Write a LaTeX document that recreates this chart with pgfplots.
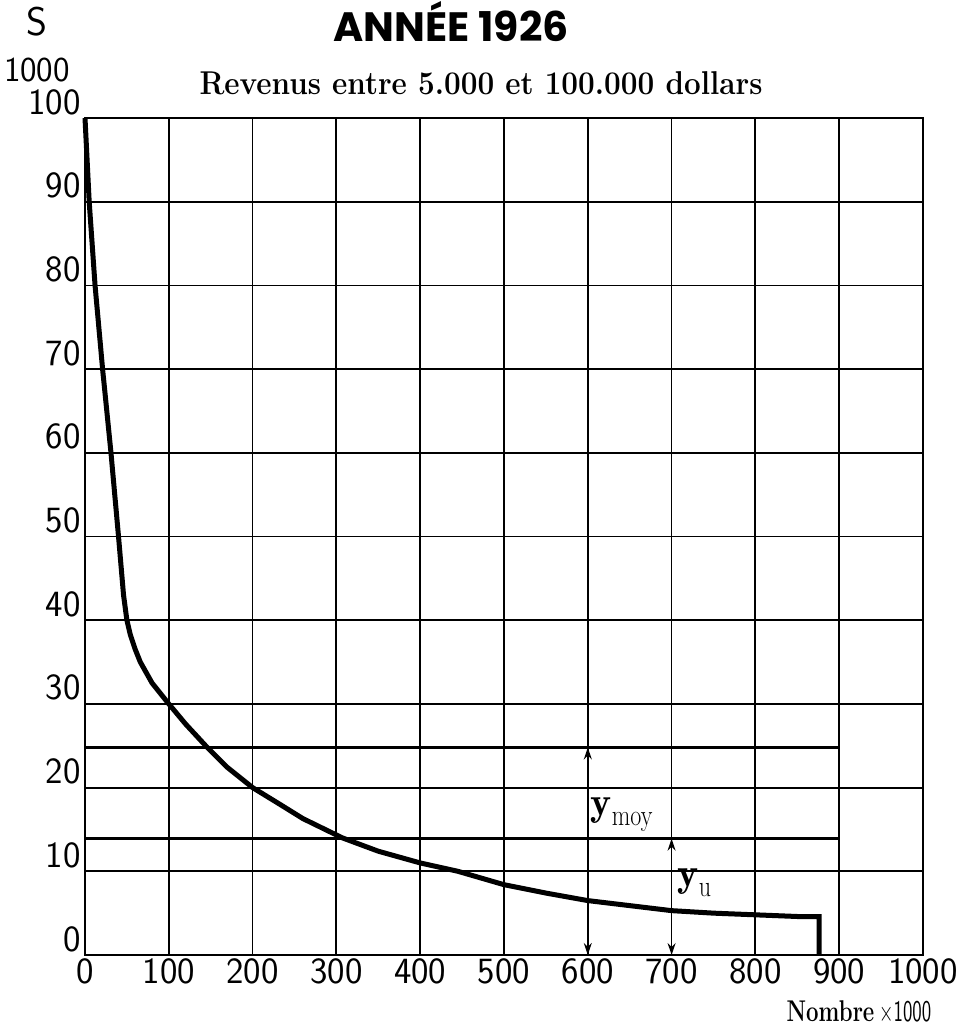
\documentclass[border=0pt]{standalone}
\usepackage{pgfplots}
\pgfplotsset{compat=1.18}
\usepackage{fontspec}
\newfontfamily\titlefont{Poppins}
\usetikzlibrary{arrows.meta}
\begin{document}
\begin{tikzpicture}
\useasboundingbox (-42.5pt,-35pt) rectangle (438.5pt,477.5pt);
\begin{axis}[
  at={(0pt,0pt)}, anchor=south west,
  scale only axis, width=419pt, height=418.5pt,
  xmin=0, xmax=1000, ymin=0, ymax=100,
  xtick={0,100,...,1000}, ytick={0,10,...,100},
  grid=major, major grid style={black, line width=0.9pt},
  axis line style={line width=1.1pt},
  tick style={draw=none},
  ticklabel style={font=\sffamily\fontsize{18.5}{18.5}\selectfont},
  /pgf/number format/assume math mode=true,
  /pgf/number format/1000 sep={},
  xticklabel style={inner sep=1pt, yshift=-0.5pt},
  yticklabel style={anchor=south east, inner sep=1pt, xshift=-1pt, yshift=0.5pt},
  clip=false,
]
\addplot[line width=2.5pt, line join=miter] coordinates {
(0,100) (5,90) (12,80) (21,70) (31,60) (40,50) (46,43) (50,40) (54,38.3) (60,36.5)
(66,35) (80,32.5) (100,30) (120,27.6) (144,25) (170,22.4) (200,20) (231,18.1) (260,16.3)
(307,14) (350,12.4) (400,11) (445,10) (500,8.4) (550,7.4) (600,6.5) (650,5.9) (700,5.3)
(750,5) (800,4.8) (850,4.6) (876,4.6) (876,0)
};
\addplot[line width=1.6pt] coordinates {(0,24.8) (900,24.8)};
\addplot[line width=1.6pt] coordinates {(0,13.9) (900,13.9)};
\addplot[line width=0.7pt, dash pattern=on 5pt off 3pt, {Stealth[length=6pt,width=4pt]}-{Stealth[length=6pt,width=4pt]}] coordinates {(600,0) (600,24.8)};
\addplot[line width=0.7pt, dash pattern=on 5pt off 3pt, {Stealth[length=6pt,width=4pt]}-{Stealth[length=6pt,width=4pt]}] coordinates {(700,0) (700,13.9)};
\node[anchor=west, inner sep=0pt] at (axis cs:603,16.8) {{\fontsize{20}{20}\selectfont$\mathbf{y}$}\raisebox{-5pt}{\scalebox{0.8}[1]{\fontsize{15}{15}\selectfont moy}}};
\node[anchor=west, inner sep=0pt] at (axis cs:707,8.6) {{\fontsize{20}{20}\selectfont$\mathbf{y}$}\raisebox{-5pt}{\scalebox{0.8}[1]{\fontsize{15}{15}\selectfont u}}};
\end{axis}
\node[font=\titlefont\bfseries\fontsize{20.5}{20.5}\selectfont] at (183pt,466.5pt) {ANNÉE 1926};
\node[font=\sffamily\fontsize{20}{20}\selectfont] at (-24pt,466.5pt) {S};
\node[font=\sffamily\fontsize{17.5}{17.5}\selectfont] at (-24pt,442.5pt) {1000};
\node[font=\bfseries\fontsize{16.5}{16.5}\selectfont] at (198pt,436pt) {\scalebox{0.9}[1]{Revenus entre 5.000 et 100.000 dollars}};
\node[font=\fontsize{15}{15}\selectfont, inner sep=0pt] at (387pt,-28.5pt) {\scalebox{0.74}[1]{\textbf{Nombre}}\,\scalebox{0.64}[1]{\textsf{$\times$1000}}};
\end{tikzpicture}
\end{document}
